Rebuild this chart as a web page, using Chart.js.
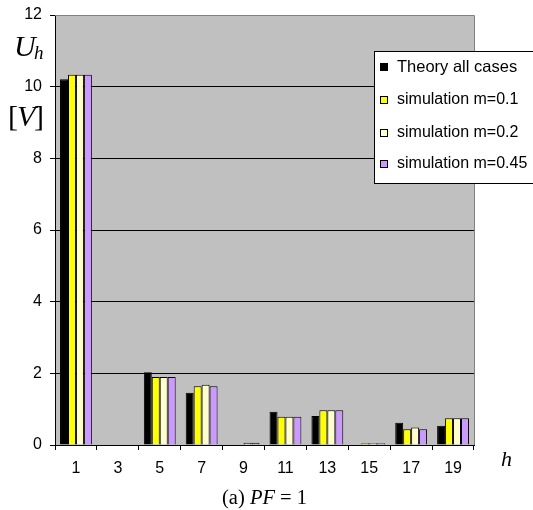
<!DOCTYPE html>
<html><head><meta charset="utf-8">
<script src="https://cdn.jsdelivr.net/npm/chart.js@4"></script>
<style>html,body{margin:0;padding:0;background:#fff}#w{width:533px;height:510px;position:relative}</style>
</head><body><div id="w"><canvas id="c" width="533" height="510"></canvas></div>
<script>
const categories = ["1","3","5","7","9","11","13","15","17","19"];
const theory = [10.21, 0, 2.03, 1.46, 0, 0.93, 0.81, 0, 0.62, 0.54];
const simM01 = [10.33, 0, 1.90, 1.64, 0, 0.79, 0.97, 0.05, 0.44, 0.75];
const simM02 = [10.33, 0, 1.90, 1.68, 0.06, 0.79, 0.97, 0.05, 0.49, 0.75];
const simM045 = [10.33, 0, 1.90, 1.64, 0.06, 0.79, 0.97, 0.05, 0.44, 0.75];
const seriesLabels = ["Theory all cases","simulation m=0.1","simulation m=0.2","simulation m=0.45"];
const seriesColors = ["#000000","#FFFF00","#FFFFCC","#CC99FF"];
const yTicks = [0,2,4,6,8,10,12];

const SANS = '"Liberation Sans", Arial, sans-serif';
const SERIF = '"Liberation Serif", "Times New Roman", serif';

const decor = {
  id: 'decor',
  beforeDraw(chart) {
    const {ctx, chartArea: a} = chart;
    ctx.save();
    ctx.fillStyle = '#C0C0C0';
    ctx.fillRect(a.left, a.top, a.right - a.left, a.bottom - a.top);
    ctx.restore();
  },
  afterDatasetsDraw(chart) {
    const {ctx, chartArea: a} = chart;
    ctx.save();
    ctx.strokeStyle = '#808080';
    ctx.lineWidth = 1;
    ctx.beginPath();
    ctx.moveTo(a.left, a.top + 0.5); ctx.lineTo(a.right + 0.5, a.top + 0.5); ctx.lineTo(a.right + 0.5, a.bottom);
    ctx.stroke();
    // legend
    const lx = 374, ly = 51, lw = 170, lh = 132;
    ctx.fillStyle = '#fff';
    ctx.fillRect(lx, ly, lw, lh);
    ctx.strokeStyle = '#000';
    ctx.strokeRect(lx + 0.5, ly + 0.5, lw, lh);
    const ys = [67, 100, 133, 164];
    ctx.textBaseline = 'middle';
    seriesLabels.forEach((t, i) => {
      ctx.fillStyle = seriesColors[i];
      ctx.fillRect(380, ys[i] - 4, 7, 7);
      ctx.strokeStyle = '#000';
      ctx.strokeRect(380.5, ys[i] - 3.5, 7, 7);
      ctx.fillStyle = '#000';
      ctx.font = (i === 0 ? '16.5px ' : '16px ') + SANS;
      ctx.fillText(t, 397, ys[i]);
    });
    // axis labels
    ctx.font = 'italic 30px ' + SERIF;
    ctx.textBaseline = 'alphabetic';
    ctx.fillText('U', 14, 56);
    ctx.font = 'italic 19px ' + SERIF;
    ctx.fillText('h', 34, 59);
    ctx.font = '30px ' + SERIF;
    ctx.fillText('[', 8, 126);
    ctx.font = 'italic 30px ' + SERIF;
    ctx.fillText('V', 17, 126);
    ctx.font = '30px ' + SERIF;
    ctx.fillText(']', 34, 126);
    ctx.font = 'italic 22px ' + SERIF;
    ctx.fillText('h', 501, 466);
    ctx.font = '20.5px ' + SERIF;
    ctx.fillText('(a) ', 222, 504);
    let x = 222 + ctx.measureText('(a) ').width;
    ctx.font = 'italic 20.5px ' + SERIF;
    ctx.fillText('PF', x, 504);
    x += ctx.measureText('PF').width;
    ctx.font = '20.5px ' + SERIF;
    ctx.fillText(' = 1', x, 504);
    ctx.restore();
  }
};

const sets = [theory, simM01, simM02, simM045].map((d, i) => ({
  label: seriesLabels[i],
  data: d,
  backgroundColor: seriesColors[i],
  borderColor: '#000',
  borderWidth: 1,
  borderSkipped: 'bottom',
  categoryPercentage: 0.76,
  barPercentage: 1.0
}));

new Chart(document.getElementById('c'), {
  type: 'bar',
  data: { labels: categories, datasets: sets },
  plugins: [decor],
  options: {
    responsive: false,
    animation: false,
    devicePixelRatio: 1,
    layout: { padding: { left: 0, right: 59, top: 15, bottom: 0 } },
    plugins: { legend: { display: false }, tooltip: { enabled: false } },
    scales: {
      x: {
        offset: true,
        grid: { offset: true, drawOnChartArea: false, color: '#000', tickLength: 5, lineWidth: 1 },
        border: { color: '#000', width: 1 },
        ticks: { color: '#000', font: { family: SANS, size: 16 }, padding: 9, maxRotation: 0 },
        afterFit(s) { s.height = 65; s.paddingLeft = 0; s.paddingRight = 0; }
      },
      y: {
        min: 0, max: 12,
        afterBuildTicks(s) { s.ticks = yTicks.map(v => ({ value: v })); },
        grid: {
          color: c => (c.tick && (c.tick.value === 0 || c.tick.value === 12)) ? 'rgba(0,0,0,0)' : '#000',
          tickColor: '#000', tickLength: 5, lineWidth: 1
        },
        border: { color: '#000', width: 1 },
        ticks: { color: '#000', font: { family: SANS, size: 16 }, padding: 8 },
        afterFit(s) { s.width = 55; s.paddingTop = 0; s.paddingBottom = 0; }
      }
    }
  }
});
</script></body></html>
